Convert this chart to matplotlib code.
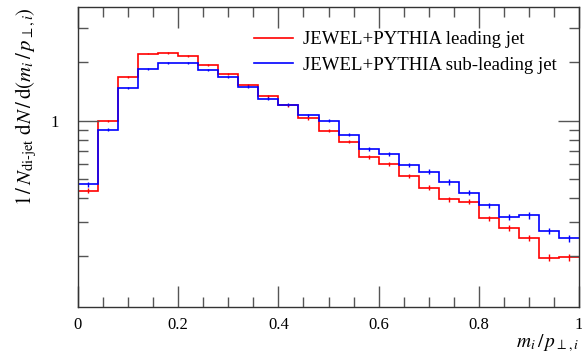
import matplotlib
matplotlib.use("Agg")
from matplotlib import pyplot as plt
from matplotlib.lines import Line2D
from matplotlib.ticker import MultipleLocator, LogLocator, NullFormatter, FixedLocator, FixedFormatter
import numpy as np

plt.rcParams['font.family'] = ['Liberation Serif', 'DejaVu Serif']
plt.rcParams['mathtext.fontset'] = 'stix'

edges = np.linspace(0, 1, 26)

leading = [0.437, 1.00, 1.69, 2.22, 2.23, 2.16, 1.94, 1.745, 1.53, 1.335, 1.20, 1.03, 0.889,
           0.78, 0.653, 0.597, 0.521, 0.452, 0.394, 0.382, 0.315, 0.282, 0.249, 0.197, 0.198]
subleading = [0.471, 0.90, 1.478, 1.85, 1.99, 1.99, 1.83, 1.68, 1.50, 1.30, 1.21, 1.066, 1.0,
              0.847, 0.713, 0.672, 0.594, 0.547, 0.484, 0.426, 0.367, 0.321, 0.326, 0.271, 0.248]
# relative stat. errors (rough)
lead_rel = [0.03, 0.015, 0.012, 0.01, 0.01, 0.01, 0.012, 0.012, 0.015, 0.015, 0.015, 0.018, 0.02,
            0.02, 0.022, 0.024, 0.025, 0.028, 0.03, 0.03, 0.032, 0.035, 0.04, 0.04, 0.04]
sub_rel = [0.03, 0.015, 0.012, 0.01, 0.01, 0.01, 0.012, 0.012, 0.015, 0.015, 0.015, 0.018, 0.02,
           0.02, 0.022, 0.024, 0.025, 0.028, 0.03, 0.03, 0.032, 0.035, 0.04, 0.04, 0.04]

fig = plt.figure(figsize=(5.82, 3.54), dpi=100)
ax = fig.add_axes([0.134, 0.133, 0.861, 0.847])

centers = 0.5 * (edges[:-1] + edges[1:])
handles = []
for vals, rel, col, lab in [(leading, lead_rel, '#ff0000', 'JEWEL+PYTHIA leading jet'),
                            (subleading, sub_rel, '#0000ff', 'JEWEL+PYTHIA sub-leading jet')]:
    vals = np.array(vals)
    ax.stairs(vals, edges, color=col, lw=1.2, baseline=None)
    ax.errorbar(centers, vals, yerr=vals * np.array(rel), fmt='none', ecolor=col, elinewidth=1.0)
    handles.append(Line2D([], [], color=col, lw=1.2, label=lab))

ax.set_yscale('log')
ax.set_xlim(0, 1)
ax.set_ylim(0.11, 3.85)

ax.xaxis.set_major_locator(FixedLocator([0, 0.2, 0.4, 0.6, 0.8, 1.0]))
ax.xaxis.set_major_formatter(FixedFormatter(['0', '0.2', '0.4', '0.6', '0.8', '1']))
ax.xaxis.set_minor_locator(MultipleLocator(0.05))
ax.yaxis.set_major_locator(FixedLocator([1.0]))
ax.yaxis.set_major_formatter(FixedFormatter(['1']))
ax.yaxis.set_minor_locator(LogLocator(base=10, subs=np.arange(2, 10)))
ax.yaxis.set_minor_formatter(NullFormatter())

ax.tick_params(which='both', direction='in', top=True, right=True, color='#555555', labelsize=12)
ax.tick_params(which='major', length=15, width=1.0)
ax.tick_params(which='minor', length=7, width=1.0)
ax.tick_params(axis='x', pad=7)
ax.tick_params(axis='y', pad=14)
for s in ax.spines.values():
    s.set_color('#333333')
    s.set_linewidth(1.0)

ax.set_xlabel(r'$m_i\,/\,p_{\perp,i}$', loc='right', fontsize=14, labelpad=0)
ax.set_ylabel(r'$1\,/\,N_{\mathrm{di\text{-}jet}}\ \mathrm{d}N\,/\,\mathrm{d}(m_i\,/\,p_{\perp,i})$',
              loc='top', fontsize=15, labelpad=8)

ax.legend(handles=handles, loc='upper left', bbox_to_anchor=(0.337, 0.945), frameon=False, fontsize=13.5,
          handlelength=2.07, handletextpad=0.53, labelspacing=0.45, borderaxespad=0)

fig.savefig('out.png', dpi=100)
